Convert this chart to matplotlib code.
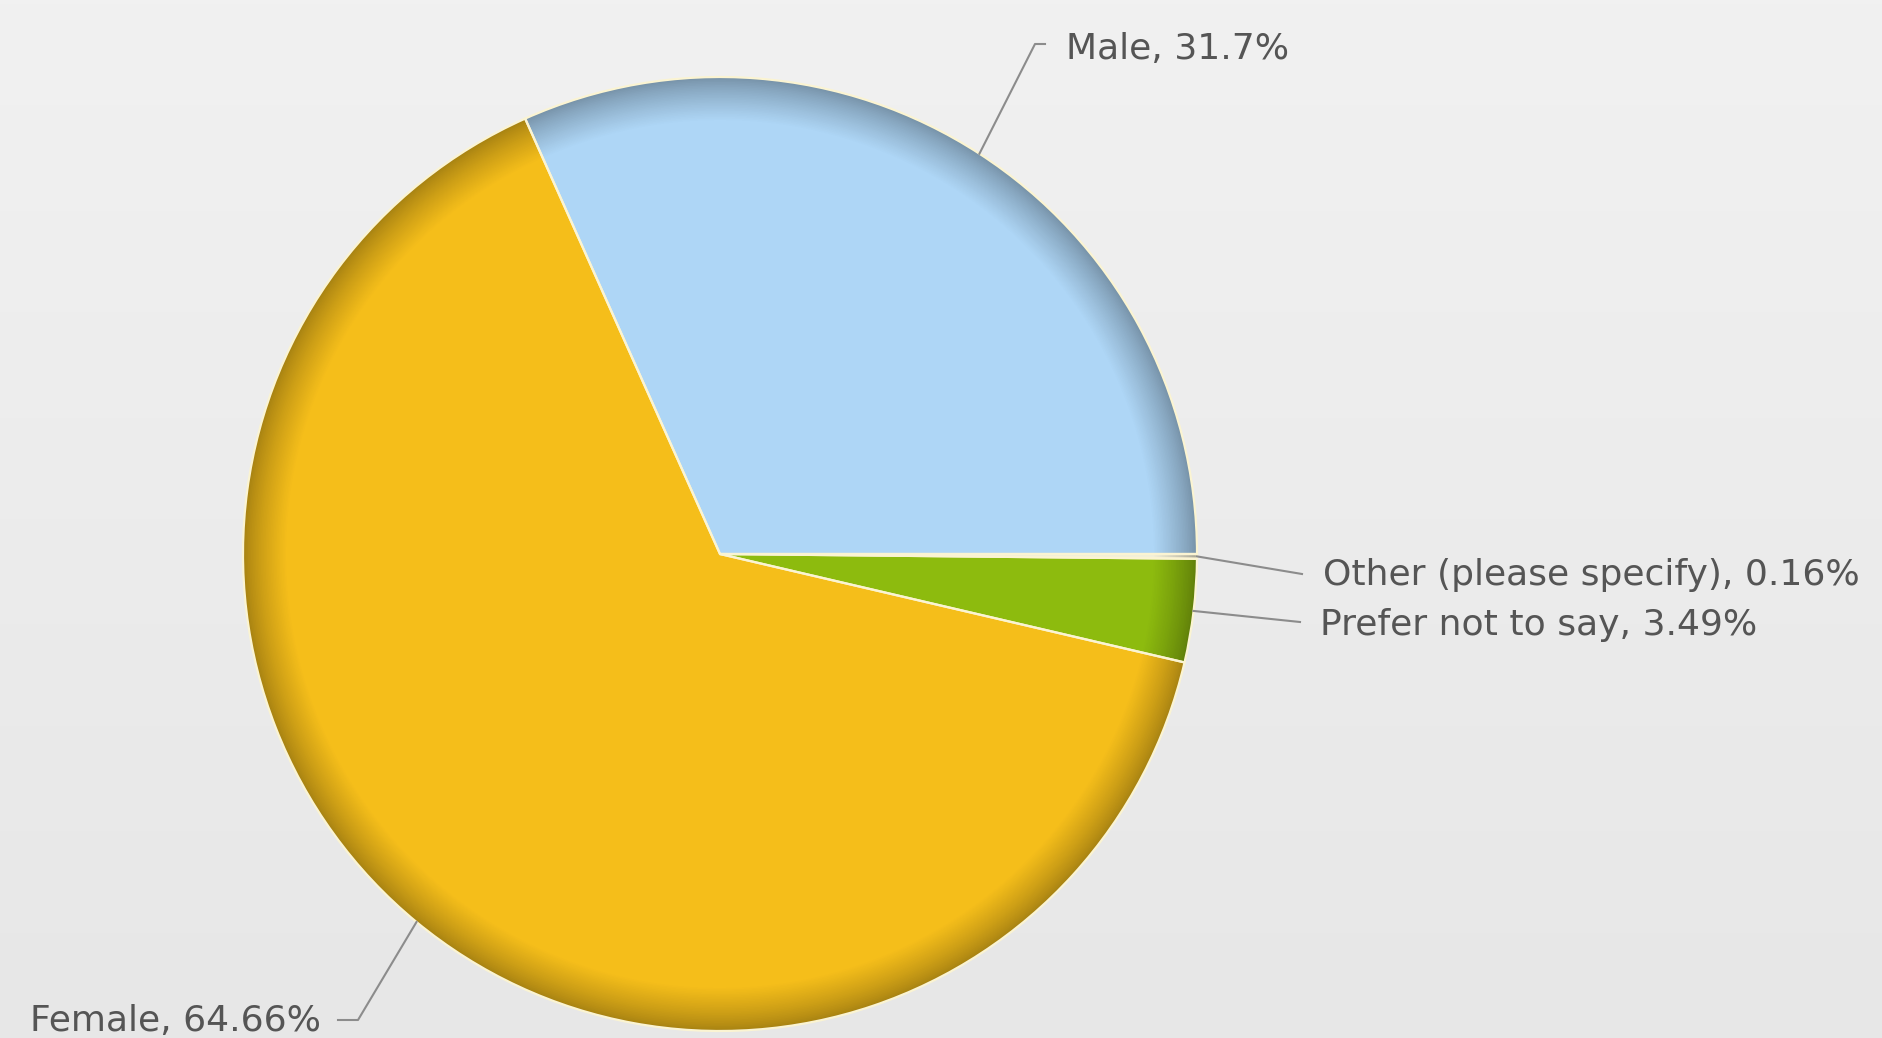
import numpy as np
import matplotlib.pyplot as plt
from matplotlib.colors import to_rgb, LinearSegmentedColormap

labels = ["Male", "Female", "Prefer not to say", "Other (please specify)"]
shares = [31.7, 64.66, 3.49, 0.16]
colors = ["#aed6f6", "#f5be1a", "#8dbb0e", "#f3f0d8"]

W, H = 1882, 1038
fig = plt.figure(figsize=(W / 100, H / 100), dpi=100)

# background gradient
bg = fig.add_axes([0, 0, 1, 1])
grad = np.linspace(0, 1, 256).reshape(-1, 1)
bg.imshow(grad, cmap=LinearSegmentedColormap.from_list("bg", ["#f1f1f1", "#e7e7e7"]),
          aspect="auto", extent=[0, 1, 0, 1])
bg.set_axis_off()

# pie axes placed by pixel centre/radius
cx, cy, R = 720, 554, 477
ax = fig.add_axes([(cx - R) / W, (H - cy - R) / H, 2 * R / W, 2 * R / H])
ax.set_aspect("equal")
ax.set_axis_off()


def shade(c, f):
    r, g, b = to_rgb(c)
    return (r * f, g * f, b * f)


# rim shading: stacked pies going from dark rim to flat colour
n = 28
for i in range(n):
    t = i / (n - 1)
    rad = 1.0 - 0.09 * t
    f = 0.68 + 0.32 * t ** 0.8
    ax.pie(shares, radius=rad, startangle=0, counterclock=True,
           colors=[shade(c, f) for c in colors],
           wedgeprops=dict(linewidth=0))
ax.pie(shares, radius=0.91, startangle=0, counterclock=True, colors=colors,
       wedgeprops=dict(linewidth=0))
# pale slice borders
ax.pie(shares, radius=1.0, startangle=0, counterclock=True,
       colors=["none"] * 4,
       wedgeprops=dict(linewidth=1.6, edgecolor="#fbf4d2"))
ax.set_xlim(-1, 1)
ax.set_ylim(-1, 1)


def px(x, y):
    return ((x - cx) / R, (cy - y) / R)


# label layout (pixel anchors for elbows and texts)
lay = {
    "Male": dict(pts=[(1035, 44), (1045, 44)], txt=(1066, 49), ha="left"),
    "Female": dict(pts=[(358, 1020), (338, 1020)], txt=(321, 1021), ha="right"),
    "Prefer not to say": dict(pts=[(1300, 622)], txt=(1320, 625), ha="left"),
    "Other (please specify)": dict(pts=[(1302, 574)], txt=(1323, 575), ha="left"),
}

tot = sum(shares)
start = 0.0
for lab, v in zip(labels, shares):
    mid = np.deg2rad(start + v / tot * 360 / 2)
    start += v / tot * 360
    L = lay[lab]
    xs = [np.cos(mid)] + [px(*p)[0] for p in L["pts"]]
    ys = [np.sin(mid)] + [px(*p)[1] for p in L["pts"]]
    ax.plot(xs, ys, color="#8c8c8c", lw=1.5, clip_on=False, zorder=5)
    tx, ty = px(*L["txt"])
    ax.text(tx, ty, f"{lab}, {v:g}%", ha=L["ha"], va="center",
            fontsize=26, color="#555555", clip_on=False)

fig.savefig("out.png", dpi=100)
